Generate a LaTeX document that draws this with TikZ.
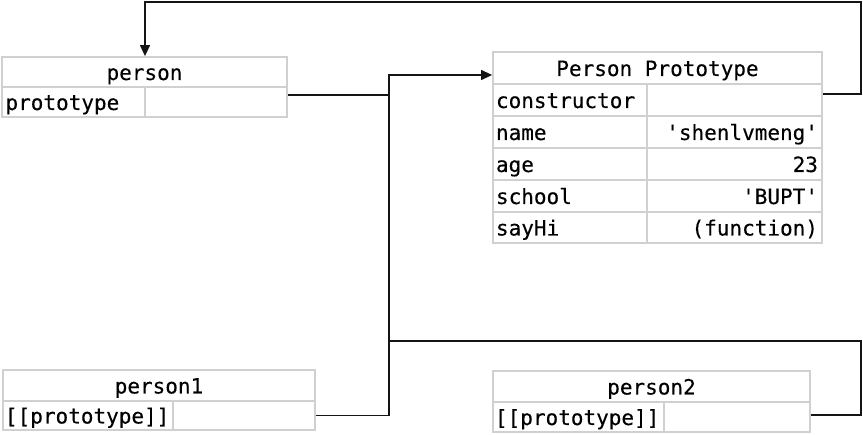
\documentclass[tikz,border=0pt]{standalone}
\usepackage{fontspec}
\setmonofont[FakeBold=0.2]{DejaVu Sans Mono}
\usetikzlibrary{arrows.meta}
\definecolor{cellgray}{HTML}{D0D0D0}
\definecolor{linecol}{HTML}{141414}
\begin{document}
\begin{tikzpicture}[x=1pt,y=-1pt,
  cell/.style={draw=cellgray,line width=1.8pt,inner xsep=4pt,inner ysep=0pt,
    font=\ttfamily\fontsize{21}{24}\selectfont,text height=19pt,text depth=3pt},
  lcell/.style={cell,align=left},
  rcell/.style={cell,align=right},
  conn/.style={draw=linecol,line width=1.3pt},
  arr/.style={conn,-{Triangle[length=11pt,width=10pt]}}]
\useasboundingbox (0,0) rectangle (863,435);
% person
\node[cell,minimum width=285pt,minimum height=30pt] (pHead) at (144.5,72) {person};
\node[lcell,minimum width=143pt,text width=136pt,minimum height=30pt,inner xsep=3.5pt] (pKey) at (73.5,102) {prototype};
\node[cell,minimum width=142pt,minimum height=30pt] (pVal) at (216,102) {};
% Person Prototype
\node[cell,minimum width=329pt,minimum height=32pt] (ppHead) at (657.5,68) {Person Prototype};
\node[lcell,minimum width=154pt,text width=148pt,minimum height=32pt,inner xsep=3pt] (ctorK) at (570,100) {constructor};
\node[cell,minimum width=175pt,minimum height=32pt] (ctorV) at (734.5,100) {};
\node[lcell,minimum width=154pt,text width=148pt,minimum height=32pt,inner xsep=3pt] (nameK) at (570,132) {name};
\node[rcell,minimum width=175pt,text width=167pt,minimum height=32pt] (nameV) at (734.5,132) {'shenlvmeng'};
\node[lcell,minimum width=154pt,text width=148pt,minimum height=32pt,inner xsep=3pt] (ageK) at (570,164) {age};
\node[rcell,minimum width=175pt,text width=167pt,minimum height=32pt] (ageV) at (734.5,164) {23};
\node[lcell,minimum width=154pt,text width=148pt,minimum height=32pt,inner xsep=3pt] (schK) at (570,196) {school};
\node[rcell,minimum width=175pt,text width=167pt,minimum height=32pt] (schV) at (734.5,196) {'BUPT'};
\node[lcell,minimum width=154pt,text width=148pt,minimum height=31pt,inner xsep=3pt] (hiK) at (570,227.5) {sayHi};
\node[rcell,minimum width=175pt,text width=167pt,minimum height=31pt] (hiV) at (734.5,227.5) {(function)};
% person1
\node[cell,minimum width=312pt,minimum height=31pt] (q1Head) at (159,385.5) {person1};
\node[lcell,minimum width=170pt,text width=166pt,minimum height=29pt,inner xsep=2pt] (q1Key) at (88,415.5) {[[prototype]]};
\node[cell,minimum width=142pt,minimum height=29pt] (q1Val) at (244,415.5) {};
% person2
\node[cell,minimum width=317pt,minimum height=31pt] (q2Head) at (651.5,386.5) {person2};
\node[lcell,minimum width=171pt,text width=167pt,minimum height=30pt,inner xsep=2pt] (q2Key) at (578.5,417) {[[prototype]]};
\node[cell,minimum width=146pt,minimum height=30pt] (q2Val) at (737,417) {};
% connector corners
\coordinate (topR) at (861,2);
\coordinate (topL) at (145,2);
\coordinate (jx) at (389,95);
\coordinate (botR) at (861,341);
\coordinate (botL) at (389,341);
% connectors
\draw[arr] ([yshift=6pt]ctorV.east) -| (topR) -- (topL) -- (pHead.north -| topL);
\draw[arr] ([yshift=7pt]pVal.east) -| (jx) |- ([yshift=-7pt]ppHead.west);
\draw[conn] (q1Val.east) -| (jx);
\draw[conn] ([yshift=2pt]q2Val.east) -| (botR) -- (botL);
\end{tikzpicture}
\end{document}
